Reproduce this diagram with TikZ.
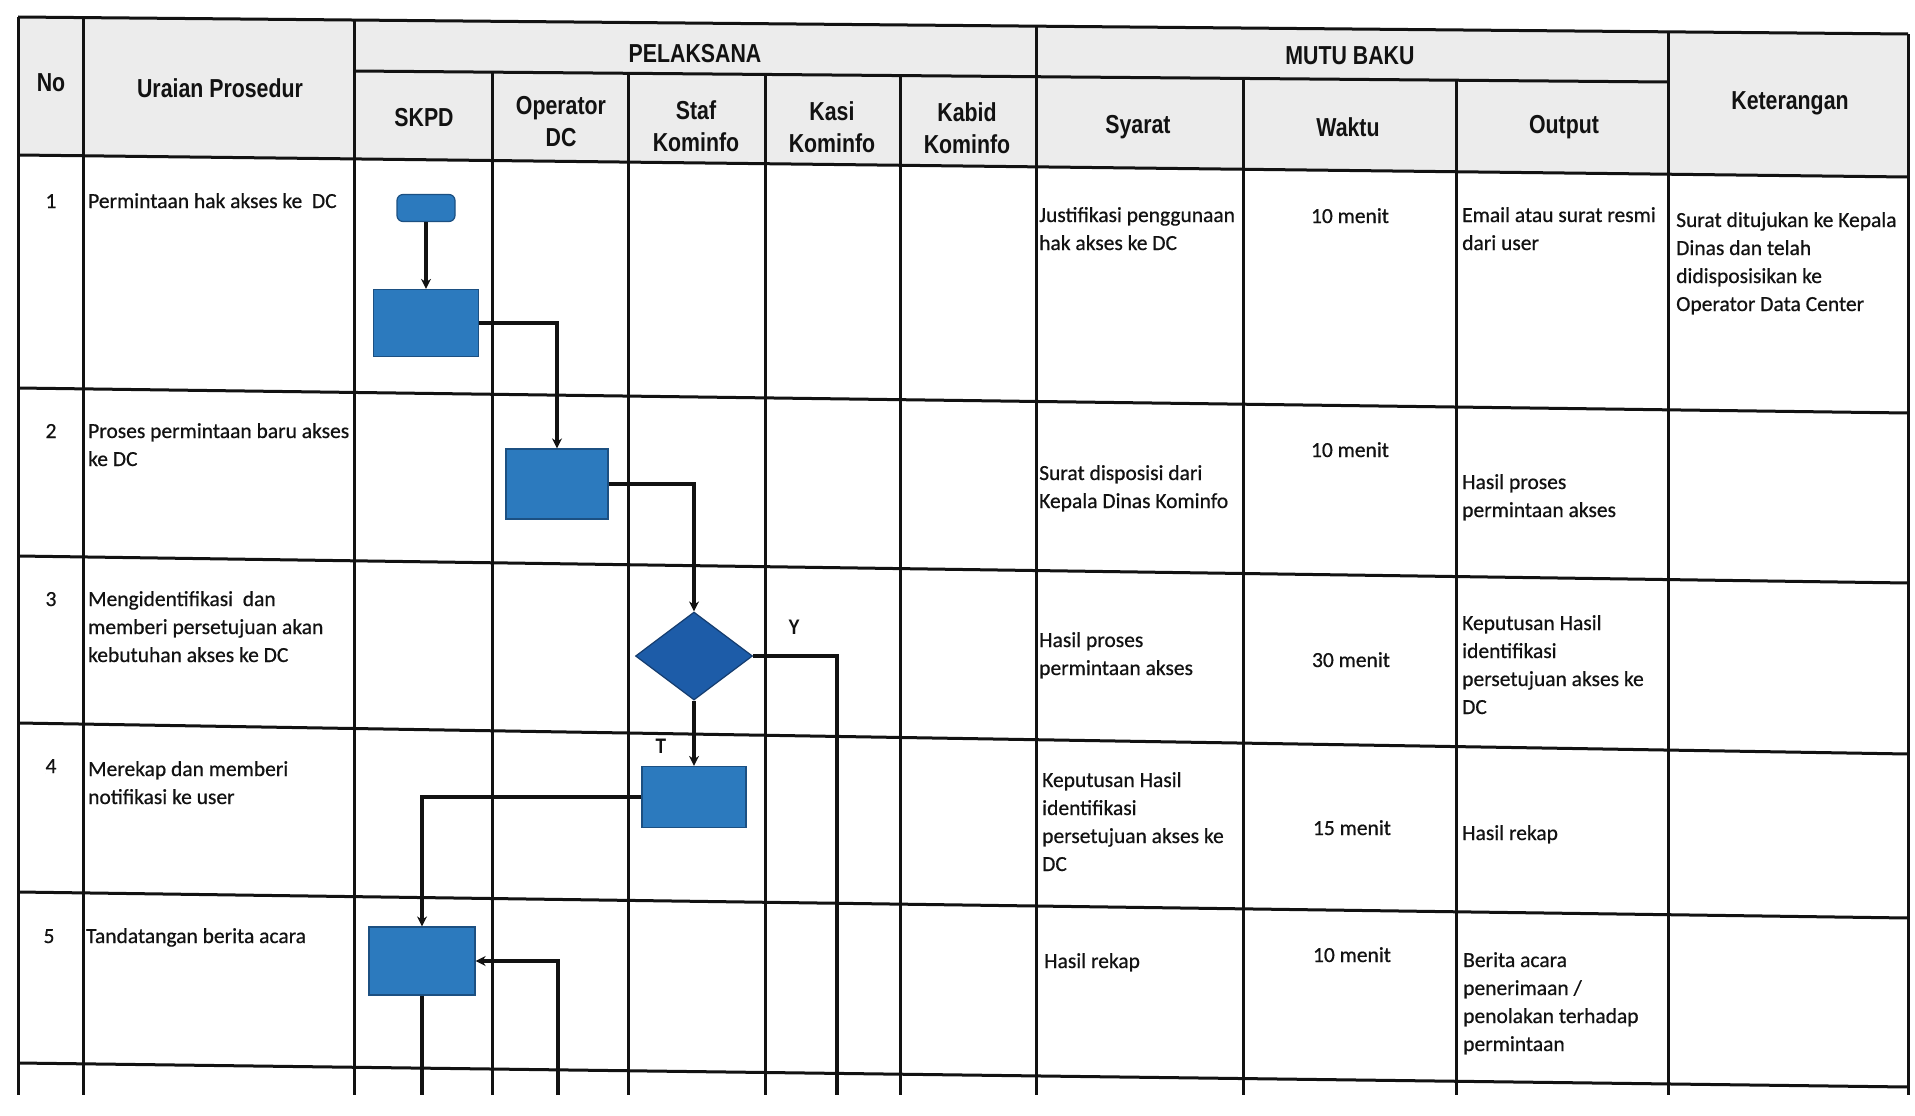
\documentclass[tikz,border=0pt]{standalone}
\usepackage{fontspec}
\setmainfont{Carlito}
\newfontfamily\bodyfont{Carlito}[FakeBold=0.6]
\newfontfamily\hdrfont{Liberation Sans}[FakeStretch=0.82]
\usetikzlibrary{shapes.geometric,arrows.meta}
\definecolor{boxblue}{RGB}{44,122,190}
\definecolor{boxedge}{RGB}{28,80,130}
\definecolor{diablue}{RGB}{29,92,168}
\definecolor{diaedge}{RGB}{20,60,110}
\definecolor{hdrgray}{RGB}{236,236,236}
\definecolor{ink}{RGB}{18,18,18}
\begin{document}
\begin{tikzpicture}[x=1pt,y=-1pt,
  tline/.style={line width=3pt,draw=ink},
  hdr/.style={font=\hdrfont\bfseries\fontsize{26}{32}\selectfont,align=center,inner sep=0pt,text=ink},
  body/.style={font=\bodyfont\fontsize{21.5}{28}\selectfont,anchor=base west,align=left,inner sep=0pt,text=ink},
  bodyc/.style={font=\bodyfont\fontsize{21.5}{28}\selectfont,anchor=base,align=center,inner sep=0pt,text=ink},
  lbl/.style={font=\hdrfont\bfseries\fontsize{21}{24}\selectfont,inner sep=0pt,text=ink},
  procbox/.style={draw=boxedge,line width=1.2pt,fill=boxblue,inner sep=0pt},
  termbox/.style={procbox,rounded corners=6pt},
  decbox/.style={diamond,draw=diaedge,line width=1.2pt,fill=diablue,inner sep=0pt,aspect=1.33},
  flow/.style={line width=3.4pt,draw=ink},
  arr/.style={flow,-{Stealth[length=10pt,width=10pt]}}
]
\useasboundingbox (0,0) rectangle (1915,1116);
\fill[white] (0,0) rectangle (1915,1116);
% header shading
\fill[hdrgray] (18,17) -- (1908,34) -- (1908,177) -- (18,155) -- cycle;
% horizontal lines
\draw[tline] (18,17) -- (1908,34);
\draw[tline] (354,71) -- (1668,82);
\draw[tline] (18,155) -- (1908,177);
\draw[tline] (18,388) -- (1908,413);
\draw[tline] (18,556) -- (1908,583);
\draw[tline] (18,723) -- (1908,754);
\draw[tline] (18,892) -- (1908,918);
\draw[tline] (18,1063) -- (1908,1087);
% vertical lines
\draw[tline] (18,17) -- (18,1095);
\draw[tline] (83,17.6) -- (83,1095);
\draw[tline] (354,20) -- (354,1095);
\draw[tline] (492,72.2) -- (492,1095);
\draw[tline] (628,73.3) -- (628,1095);
\draw[tline] (765,74.4) -- (765,1095);
\draw[tline] (900,75.6) -- (900,1095);
\draw[tline] (1036,26.2) -- (1036,1095);
\draw[tline] (1243,78.4) -- (1243,1095);
\draw[tline] (1456,80.2) -- (1456,1095);
\draw[tline] (1668,31.8) -- (1668,1095);
\draw[tline] (1908,34) -- (1908,1095);
% header texts
\node[hdr] (hNo) at (51,83) {No};
\node[hdr] (hUr) at (220,88) {Uraian Prosedur};
\node[hdr] (hPel) at (695,54) {PELAKSANA};
\node[hdr] (hMutu) at (1350,56) {MUTU BAKU};
\node[hdr] (hSkpd) at (424,118) {SKPD};
\node[hdr] (hOp) at (561,122) {Operator\\DC};
\node[hdr] (hStaf) at (696,126) {Staf\\Kominfo};
\node[hdr] (hKasi) at (832,127) {Kasi\\Kominfo};
\node[hdr] (hKabid) at (967,128) {Kabid\\Kominfo};
\node[hdr] (hSy) at (1138,127) {Syarat};
\node[hdr] (hWk) at (1348,127) {Waktu};
\node[hdr] (hOut) at (1564,127) {Output};
\node[hdr] (hKet) at (1790,103) {Keterangan};
% row 1
\node[bodyc] (n1) at (51,208) {1};
\node[body] (u1) at (88,208) {Permintaan hak akses ke~ DC};
\node[body] (s1) at (1039,250) {Justifikasi penggunaan\\hak akses ke DC};
\node[bodyc] (w1) at (1350,223) {10 menit};
\node[body] (o1) at (1462,250) {Email atau surat resmi\\dari user};
\node[body] (k1) at (1676,311) {Surat ditujukan ke Kepala\\Dinas dan telah\\didisposisikan ke\\Operator Data Center};
% row 2
\node[bodyc] (n2) at (51,438) {2};
\node[body] (u2) at (88,466) {Proses permintaan baru akses\\ke DC};
\node[body] (s2) at (1039,508) {Surat disposisi dari\\Kepala Dinas Kominfo};
\node[bodyc] (w2) at (1350,457) {10 menit};
\node[body] (o2) at (1462,517) {Hasil proses\\permintaan akses};
% row 3
\node[bodyc] (n3) at (51,606) {3};
\node[body] (u3) at (88,662) {Mengidentifikasi~ dan\\memberi persetujuan akan\\kebutuhan akses ke DC};
\node[body] (s3) at (1039,675) {Hasil proses\\permintaan akses};
\node[bodyc] (w3) at (1351,667) {30 menit};
\node[body] (o3) at (1462,714) {Keputusan Hasil\\identifikasi\\persetujuan akses ke\\DC};
% row 4
\node[bodyc] (n4) at (51,773) {4};
\node[body] (u4) at (88,804) {Merekap dan memberi\\notifikasi ke user};
\node[body] (s4) at (1042,871) {Keputusan Hasil\\identifikasi\\persetujuan akses ke\\DC};
\node[bodyc] (w4) at (1352,835) {15 menit};
\node[body] (o4) at (1462,840) {Hasil rekap};
% row 5
\node[bodyc] (n5) at (49,943) {5};
\node[body] (u5) at (86,943) {Tandatangan berita acara};
\node[body] (s5) at (1044,968) {Hasil rekap};
\node[bodyc] (w5) at (1352,962) {10 menit};
\node[body] (o5) at (1463,1051) {Berita acara\\penerimaan /\\penolakan terhadap\\permintaan};
% flowchart
\node[termbox,minimum width=58pt,minimum height=27pt] (term) at (426,208) {};
\node[procbox,minimum width=105pt,minimum height=67pt] (p1) at (426,323) {};
\node[procbox,minimum width=102pt,minimum height=70pt] (p2) at (557,484) {};
\node[decbox,minimum width=117pt,minimum height=88pt] (dec) at (694,656) {};
\node[procbox,minimum width=104pt,minimum height=61pt] (p3) at (694,797) {};
\node[procbox,minimum width=106pt,minimum height=68pt] (p4) at (422,961) {};
\node[lbl] (ly) at (794,627) {Y};
\node[lbl] (lt) at (661,746) {T};
\coordinate (yend) at (837,1095);
\coordinate (back) at (558,1095);
\coordinate (p4end) at (422,1095);
\draw[arr] (term.south) -- (p1.north);
\draw[arr] (p1.east) -| (p2.north);
\draw[arr] (p2.east) -| (dec.north);
\draw[flow] (dec.east) -| (yend);
\draw[arr] (dec.south) -- (p3.north);
\draw[arr] (p3.west) -| (p4.north);
\draw[arr] (back) |- (p4.east);
\draw[flow] (p4.south) -- (p4end);
\end{tikzpicture}
\end{document}
